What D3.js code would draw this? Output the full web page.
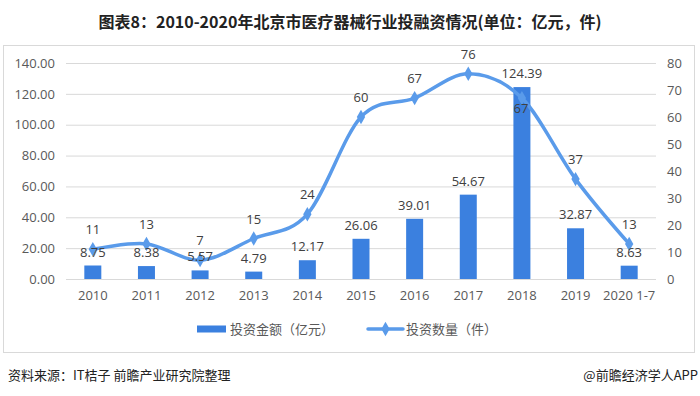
<!DOCTYPE html>
<html>
<head>
<meta charset="utf-8">
<script src="https://cdn.jsdelivr.net/npm/d3@7"></script>
<style>
  body { margin: 0; background: #fff; }
  text { font-family: "Noto Sans CJK SC", "Noto Sans", sans-serif; }
</style>
</head>
<body>
<script>
var years = ['2010', '2011', '2012', '2013', '2014', '2015', '2016', '2017', '2018', '2019', '2020 1-7'];
var amount = [8.75, 8.38, 5.57, 4.79, 12.17, 26.06, 39.01, 54.67, 124.39, 32.87, 8.63];
var count = [11, 13, 7, 15, 24, 60, 67, 76, 67, 37, 13];
var leftTicks = [0, 20, 40, 60, 80, 100, 120, 140];
var rightTicks = [0, 10, 20, 30, 40, 50, 60, 70, 80];

var W = 700, H = 396;
var barColor = '#3b80df', lineColor = '#5a9bea';

var svg = d3.select('body').append('svg')
  .attr('width', W)
  .attr('height', H);

// frame
svg.append('rect')
  .attr('x', 3.5).attr('y', 45.5)
  .attr('width', 691).attr('height', 307)
  .attr('fill', 'none')
  .attr('stroke', '#d9d9d9');

svg.append('text')
  .attr('x', 350).attr('y', 28)
  .attr('text-anchor', 'middle')
  .attr('font-size', 16)
  .attr('font-weight', 'bold')
  .attr('fill', '#222')
  .text('图表8：2010-2020年北京市医疗器械行业投融资情况(单位：亿元，件)');

var x = d3.scaleBand().domain(years).range([66, 656]);
var yL = d3.scaleLinear().domain([0, 140]).range([279, 63]);
var yR = d3.scaleLinear().domain([0, 80]).range([279, 63]);

// grid
svg.append('g').selectAll('line')
  .data(leftTicks).enter().append('line')
  .attr('x1', 66).attr('x2', 656)
  .attr('y1', function(d) { return yL(d) + 0.5; })
  .attr('y2', function(d) { return yL(d) + 0.5; })
  .attr('stroke', '#d9d9d9');

var axL = svg.append('g')
  .attr('transform', 'translate(66,0)')
  .call(d3.axisLeft(yL).tickValues(leftTicks).tickSize(0).tickPadding(11).tickFormat(d3.format('.2f')));
var axR = svg.append('g')
  .attr('transform', 'translate(656,0)')
  .call(d3.axisRight(yR).tickValues(rightTicks).tickSize(0).tickPadding(11));
var axB = svg.append('g')
  .attr('transform', 'translate(0,279)')
  .call(d3.axisBottom(x).tickSize(0).tickPadding(12));

[axL, axR, axB].forEach(function(a) {
  a.select('.domain').remove();
  a.selectAll('text').attr('font-size', 13).attr('fill', '#595959')
    .style('font-family', '"Open Sans", "Noto Sans", sans-serif');
});

// bars
var bw = 17;
svg.append('g').selectAll('rect')
  .data(amount).enter().append('rect')
  .attr('x', function(d, i) { return x(years[i]) + x.bandwidth() / 2 - bw / 2; })
  .attr('y', function(d) { return yL(d); })
  .attr('width', bw)
  .attr('height', function(d) { return yL(0) - yL(d); })
  .attr('fill', barColor);

// line (excel-style smoothing)
var line = d3.line()
  .x(function(d, i) { return x(years[i]) + x.bandwidth() / 2; })
  .y(function(d) { return yR(d); })
  .curve(d3.curveCardinal.tension(0));

svg.append('path')
  .datum(count)
  .attr('d', line)
  .attr('fill', 'none')
  .attr('stroke', lineColor)
  .attr('stroke-width', 3.5)
  .attr('stroke-linecap', 'round');

var diamond = d3.symbol().type(d3.symbolDiamond).size(60);
svg.append('g').selectAll('path')
  .data(count).enter().append('path')
  .attr('d', diamond)
  .attr('transform', function(d, i) {
    return 'translate(' + (x(years[i]) + x.bandwidth() / 2) + ',' + yR(d) + ')';
  })
  .attr('fill', lineColor);

// bar labels
svg.append('g').selectAll('text')
  .data(amount).enter().append('text')
  .attr('x', function(d, i) { return x(years[i]) + x.bandwidth() / 2; })
  .attr('y', function(d) { return yL(d) - 9; })
  .attr('text-anchor', 'middle')
  .attr('font-size', 13)
  .attr('fill', '#404040')
  .style('font-family', '"Open Sans", "Noto Sans", sans-serif')
  .text(function(d) { return d.toFixed(2); });

// line labels
svg.append('g').selectAll('text')
  .data(count).enter().append('text')
  .attr('x', function(d, i) { return x(years[i]) + x.bandwidth() / 2 - (i === 8 ? 1 : 0); })
  .attr('y', function(d, i) { return i === 8 ? yR(d) + 15 : yR(d) - 15; })
  .attr('text-anchor', 'middle')
  .attr('font-size', 13)
  .attr('fill', '#404040')
  .style('font-family', '"Open Sans", "Noto Sans", sans-serif')
  .text(function(d) { return d; });

// legend
var lg = svg.append('g').attr('transform', 'translate(0,329)');
lg.append('rect').attr('x', 197).attr('y', -3.5).attr('width', 29).attr('height', 7).attr('fill', barColor);
lg.append('text').attr('x', 230).attr('y', 5).attr('font-size', 13).attr('fill', '#595959').text('投资金额（亿元）');
lg.append('line').attr('x1', 368).attr('x2', 403).attr('y1', 0).attr('y2', 0)
  .attr('stroke', lineColor).attr('stroke-width', 3.5).attr('stroke-linecap', 'round');
lg.append('path').attr('d', diamond).attr('transform', 'translate(385.5,0)').attr('fill', lineColor);
lg.append('text').attr('x', 406).attr('y', 5).attr('font-size', 13).attr('fill', '#595959').text('投资数量（件）');

// footer
svg.append('text').attr('x', 8).attr('y', 380).attr('font-size', 13).attr('fill', '#222')
  .text('资料来源：IT桔子 前瞻产业研究院整理');
svg.append('text').attr('x', 698).attr('y', 380).attr('text-anchor', 'end').attr('font-size', 13).attr('fill', '#222')
  .text('@前瞻经济学人APP');
</script>
</body>
</html>
